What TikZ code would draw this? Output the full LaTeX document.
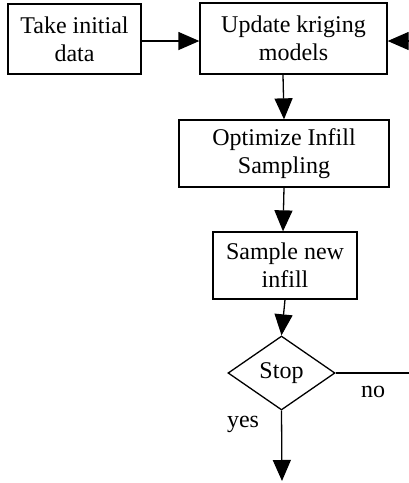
\documentclass[tikz,border=0pt]{standalone}
\usepackage{fontspec}
\setmainfont{Liberation Serif}
\usetikzlibrary{shapes.geometric,arrows.meta}
\begin{document}
\begin{tikzpicture}[x=1pt,y=-1pt,
  box/.style={draw,line width=1.3pt,inner sep=0pt,align=center,font=\fontsize{24}{28}\selectfont},
  dec/.style={draw,diamond,line width=1.3pt,inner sep=0pt,font=\fontsize{24}{28}\selectfont},
  arr/.style={line width=1.3pt,-{Triangle[length=21pt,width=18pt]}},
  lbl/.style={font=\fontsize{24}{28}\selectfont,inner sep=0pt}]
\useasboundingbox (0,0) rectangle (409,483);
\node[box,minimum width=133pt,minimum height=70pt] (take) at (74.5,39) {Take initial\\data};
\node[box,minimum width=187pt,minimum height=71pt] (upd) at (293.5,38.5) {Update kriging\\models};
\node[box,minimum width=210pt,minimum height=67pt] (opt) at (284,153.5) {Optimize Infill\\Sampling};
\node[box,minimum width=144pt,minimum height=67pt] (samp) at (285,265.5) {Sample new\\infill};
\node[dec,minimum width=107pt,minimum height=74pt] (stop) at (281.5,373) {Stop};
\coordinate (fb) at (409,41);
\coordinate (noend) at (409,373);
\coordinate (yesend) at (282,481);
\draw[arr] (take.east |- 0,41) -- (upd.west |- 0,41);
\draw[arr] (fb) -- (upd.east |- fb);
\draw[arr] (283,0 |- upd.south) -- (284,0 |- opt.north);
\draw[arr] (284,0 |- opt.south) -- (283,0 |- samp.north);
\draw[arr] (285,0 |- samp.south) -- (stop.north);
\draw[line width=1.3pt] (stop.east) -- (noend);
\draw[arr] (stop.south) -- (yesend);
\node[lbl] (no) at (373,392) {no};
\node[lbl] (yes) at (243,424) {yes};
\end{tikzpicture}
\end{document}
